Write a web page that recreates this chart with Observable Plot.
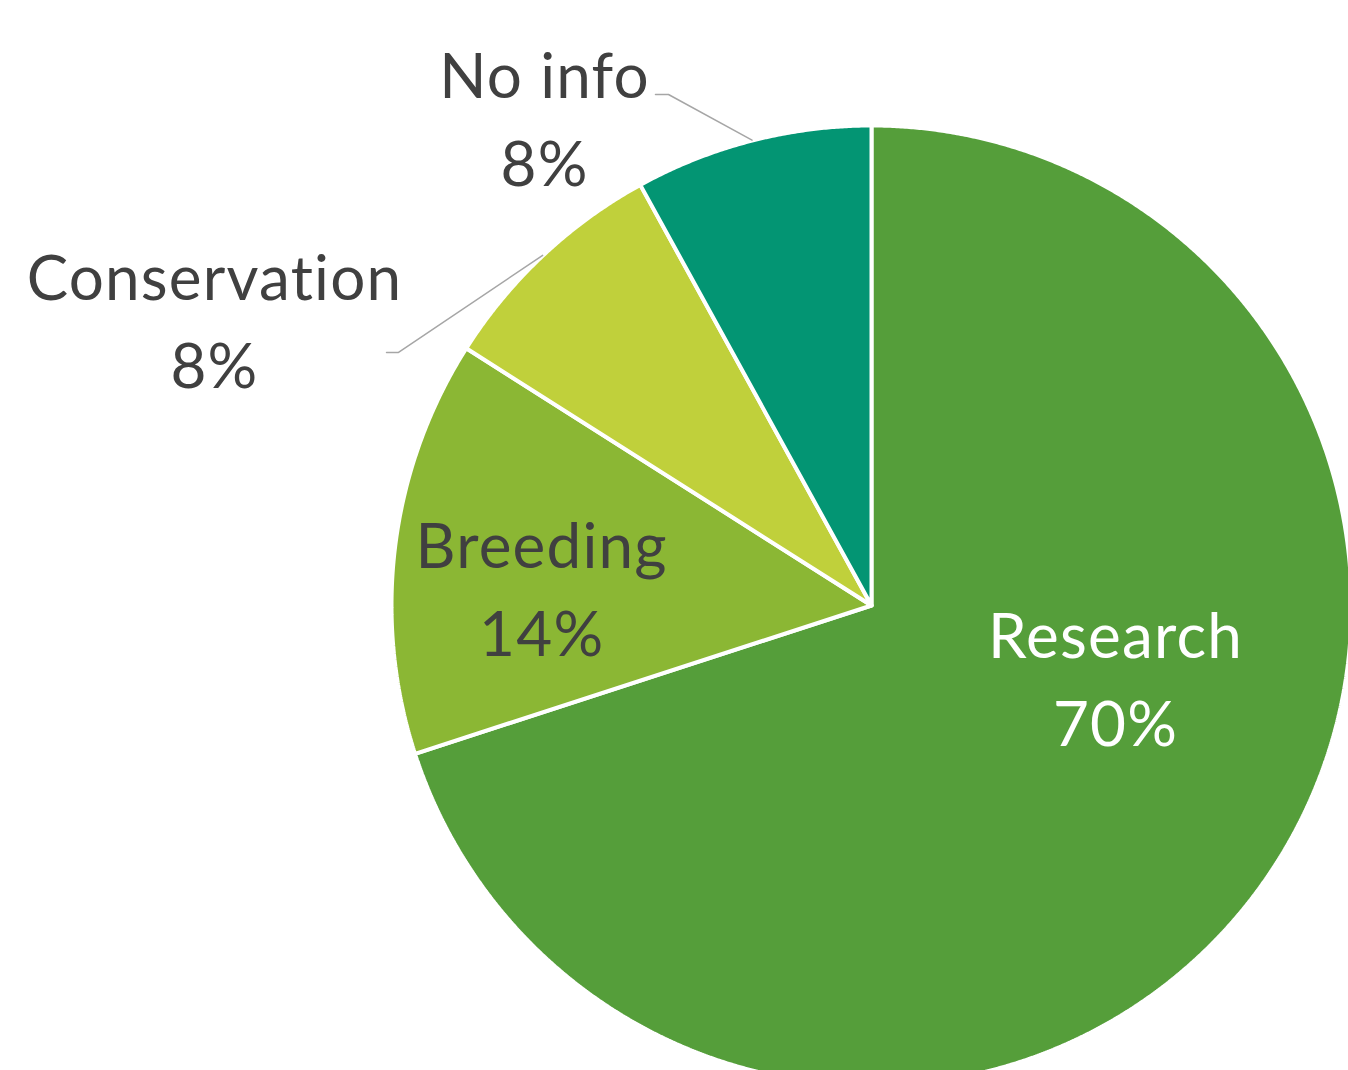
<!DOCTYPE html>
<html>
<head>
<meta charset="utf-8">
<script src="https://cdn.jsdelivr.net/npm/d3@7"></script>
<script src="https://cdn.jsdelivr.net/npm/@observablehq/plot@0.6"></script>
<style>
  html, body { margin: 0; padding: 0; background: #ffffff; overflow: hidden; }
  #chart svg { display: block; }
  #chart svg text { font-variant-ligatures: none; letter-spacing: 1.2px; }
</style>
</head>
<body>
<div id="chart"></div>
<script>
// ---- Data ----
const categories = ["Research", "Breeding", "Conservation", "No info"];
const values = [70, 14, 8, 8];
const percentLabels = ["70%", "14%", "8%", "8%"];

// ---- Styles / layout (kept separate from data) ----
const colors = ["#559e3a", "#8bb734", "#c0d03b", "#039573"];
const labelColors = ["#ffffff", "#404040", "#404040", "#404040"];
// label anchor positions in pie-radius units (x right, y up), centre at 0,0
const labelPos = [[0.5105, -0.1430], [-0.690, 0.0453], [-1.3745, 0.6070], [-0.684, 1.0284]];
// leader lines for outside labels: start of short horizontal tick, its end
const leaderStart = {"Conservation": [[-1.0146, 0.5293], [-0.9895, 0.5293]],
                     "No info": [[-0.4519, 1.069], [-0.4247, 1.069]]};

const W = 1348, H = 1070;
const cx = 871, cy = 605, R = 478;
const outerR = 480 / 478; // white outline eats 2px of the outer edge
const fontSize = 62;

// ---- Build slices ----
const arcs = d3.pie().sort(null).startAngle(0)(values);
const slicePts = [];
arcs.forEach((a, i) => {
  const name = categories[i];
  slicePts.push({name, x: 0, y: 0});
  const n = Math.max(2, Math.ceil((a.endAngle - a.startAngle) / (Math.PI / 720)));
  for (let k = 0; k <= n; k++) {
    const t = a.startAngle + (a.endAngle - a.startAngle) * k / n;
    slicePts.push({name, x: outerR * Math.sin(t), y: outerR * Math.cos(t)});
  }
  slicePts.push({name, x: 0, y: 0});
});

const labels = categories.map((c, i) => ({
  name: c, text: c + "\n" + percentLabels[i], x: labelPos[i][0], y: labelPos[i][1], color: labelColors[i]
}));

const leaders = [];
arcs.forEach((a, i) => {
  const name = categories[i];
  if (!leaderStart[name]) return;
  const mid = (a.startAngle + a.endAngle) / 2;
  const [p0, p1] = leaderStart[name];
  leaders.push({name, x: p0[0], y: p0[1]});
  leaders.push({name, x: p1[0], y: p1[1]});
  leaders.push({name, x: Math.sin(mid) * 1.005, y: Math.cos(mid) * 1.005});
});

const plot = Plot.plot({
  width: W,
  height: H,
  margin: 0,
  style: {background: "#ffffff", fontFamily: "Lato, 'Open Sans', sans-serif"},
  x: {domain: [-cx / R, (W - cx) / R], range: [0, W], axis: null},
  y: {domain: [-(H - cy) / R, cy / R], range: [H, 0], axis: null},
  color: {domain: categories, range: colors},
  marks: [
    Plot.line(slicePts, {
      x: "x", y: "y", z: "name", fill: "name", stroke: "#ffffff",
      strokeWidth: 4, strokeLinejoin: "miter", curve: "linear"
    }),
    Plot.line(leaders, {x: "x", y: "y", z: "name", stroke: "#a6a6a6", strokeWidth: 1.5}),
    Plot.text(labels, {
      x: "x", y: "y", text: "text", fill: "color",
      fontSize, lineHeight: 88 / fontSize, lineAnchor: "middle", textAnchor: "middle",
      fontWeight: 400
    })
  ]
});

document.getElementById("chart").appendChild(plot);
</script>
</body>
</html>
